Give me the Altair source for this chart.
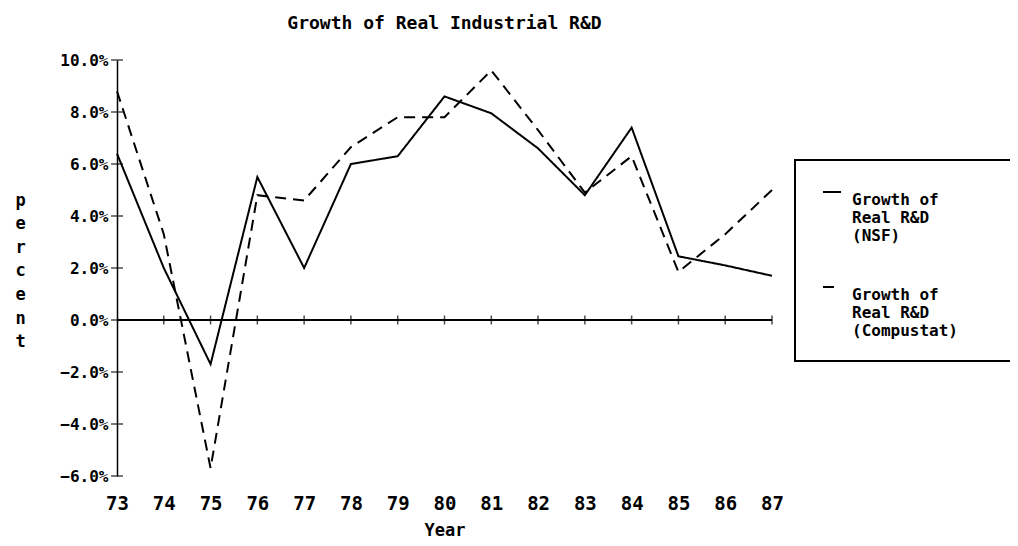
import altair as alt
import pandas as pd

# ---- data ----
years = [73, 74, 75, 76, 77, 78, 79, 80, 81, 82, 83, 84, 85, 86, 87]
nsf = [6.4, 2.0, -1.7, 5.5, 2.0, 6.0, 6.3, 8.6, 7.95, 6.6, 4.8, 7.4, 2.45, 2.1, 1.7]
compustat = [8.8, 3.3, -5.7, 4.8, 4.6, 6.65, 7.8, 7.8, 9.6, 7.3, 4.9, 6.3, 1.85, 3.3, 5.0]
series_names = ["Growth of|Real R&D|(NSF)", "Growth of|Real R&D|(Compustat)"]
y_ticks = [-6, -4, -2, 0, 2, 4, 6, 8, 10]
x_ticks = years
y_title_letters = ["p", "e", "r", "c", "e", "n", "t"]

rows = []
for name, vals in zip(series_names, [nsf, compustat]):
    for yr, v in zip(years, vals):
        rows.append({"year": yr, "value": v, "series": name})
df = pd.DataFrame(rows)
xt = pd.DataFrame({"year": x_ticks[1:]})
yt = pd.DataFrame({"value": y_ticks})

FONT = "DejaVu Sans Mono"
BLANK = "\u2800"  # blank cell, keeps the legend box running past the right edge
xs = alt.Scale(domain=[73, 87], nice=False, zero=False)
ys = alt.Scale(domain=[-6, 10], nice=False, zero=False)

x_axis = alt.Axis(
    values=x_ticks, format="d", domain=False, ticks=False, tickSize=0, grid=False,
    labelFont=FONT, labelFontWeight="bold", labelFontSize=19, labelColor="black",
    labelPadding=18, labelFlush=False,
    title="Year", titleFont=FONT, titleFontWeight="bold", titleFontSize=17,
    titleColor="black", titleY=46, titleBaseline="top")

y_axis = alt.Axis(
    values=y_ticks, labelExpr="format(datum.value, '.1f') + '%'",
    domain=True, domainColor="black", domainWidth=1.5, ticks=False, tickSize=0,
    grid=False, labelFont=FONT, labelFontWeight="bold", labelFontSize=16,
    labelColor="black", labelPadding=9, labelFlush=False,
    title=y_title_letters, titleAngle=0, titleX=-97, titleY=140,
    titleAlign="center", titleBaseline="middle", titleLineHeight=23.6,
    titleFont=FONT, titleFontWeight="bold", titleFontSize=17, titleColor="black")

label_expr = ("[split(datum.label, '|')[0], split(datum.label, '|')[1], "
              "pad(split(datum.label, '|')[2], 15, '" + BLANK + "')]")

lines = alt.Chart(df).mark_line(color="black", strokeWidth=2).encode(
    x=alt.X("year:Q", scale=xs, axis=x_axis),
    y=alt.Y("value:Q", scale=ys, axis=y_axis),
    strokeDash=alt.StrokeDash("series:N", scale=alt.Scale(
        domain=series_names, range=[[1, 0], [11, 7]]),
        legend=alt.Legend(
            orient="none", legendX=678, legendY=100, title=None,
            symbolType="stroke", symbolSize=324, symbolStrokeWidth=2,
            symbolStrokeColor="black", labelBaseline="top", symbolOffset=5,
            labelExpr=label_expr,
            labelFont=FONT, labelFontWeight="bold", labelFontSize=16,
            labelColor="black", labelOffset=10, labelLimit=1000,
            padding=22, rowPadding=33, strokeColor="black",
            fillColor="white")),
)

zero = alt.Chart(df).mark_rule(color="black", strokeWidth=1.5).encode(
    y=alt.YDatum(0, scale=ys, axis=y_axis))

xtick_marks = alt.Chart(xt).mark_tick(orient="vertical", size=9, thickness=1.5,
                                      color="black").encode(
    x=alt.X("year:Q", scale=xs, axis=x_axis),
    y=alt.YDatum(0, scale=ys, axis=y_axis))

ytick_marks = alt.Chart(yt).mark_tick(orient="horizontal", size=12, thickness=1.5,
                                      color="black").encode(
    x=alt.XDatum(73, scale=xs, axis=x_axis),
    y=alt.Y("value:Q", scale=ys, axis=y_axis))

chart = alt.layer(lines, zero, xtick_marks, ytick_marks).properties(
    width=655, height=416,
    title=alt.TitleParams("Growth of Real Industrial R&D", font=FONT,
                          fontWeight="bold", fontSize=18, color="black",
                          anchor="middle", offset=19),
    autosize=alt.AutoSizeParams(type="none"),
    padding={"left": 109, "top": 52, "right": 238, "bottom": 62},
    background="white",
).configure_view(stroke=None).configure_legend(strokeWidth=2)

chart.save("out.html", embed_options={"renderer": "svg", "actions": False})
